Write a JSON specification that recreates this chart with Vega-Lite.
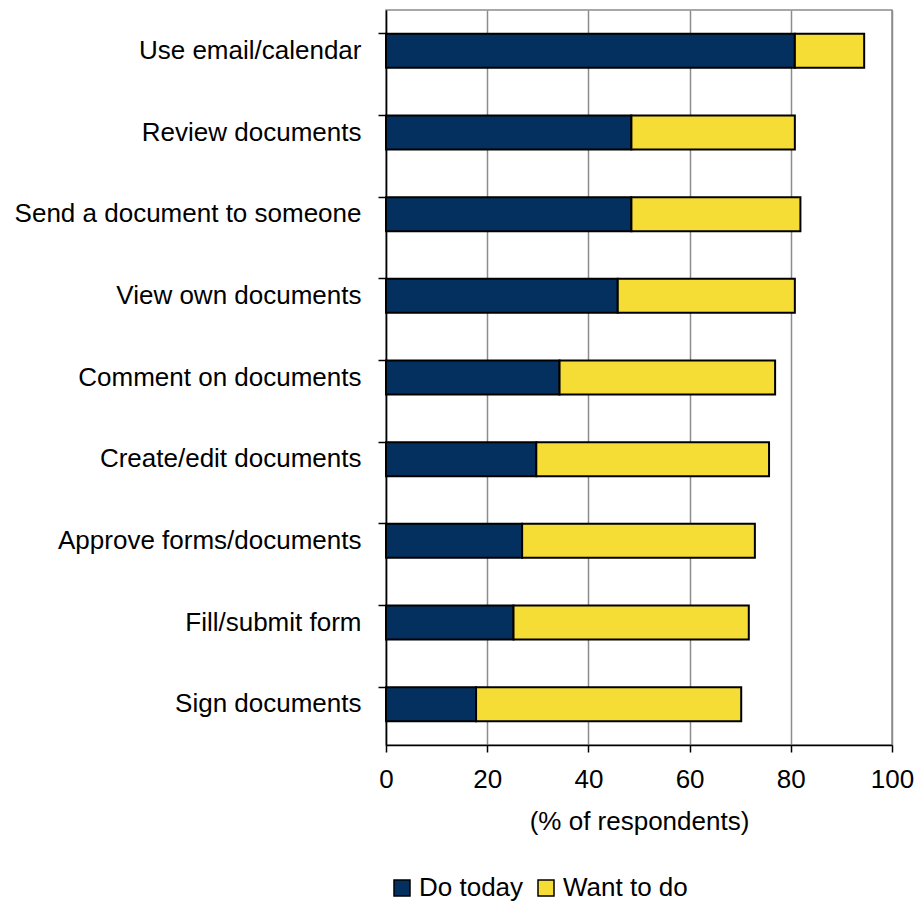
{
  "$schema": "https://vega.github.io/schema/vega-lite/v6.json",
  "autosize": {"type": "none"},
  "width": 506,
  "height": 735,
  "padding": {"left": 386, "top": 10, "right": 26, "bottom": 160},
  "background": "white",
  "config": {
    "font": "Liberation Sans",
    "view": {"stroke": "#8c8c8c", "strokeWidth": 1.5}
  },
  "data": {
    "values": [
      {"task": "Use email/calendar", "series": "Do today", "k": 1, "value": 80.8},
      {"task": "Use email/calendar", "series": "Want to do", "k": 2, "value": 13.7},
      {"task": "Review documents", "series": "Do today", "k": 1, "value": 48.5},
      {"task": "Review documents", "series": "Want to do", "k": 2, "value": 32.3},
      {"task": "Send a document to someone", "series": "Do today", "k": 1, "value": 48.5},
      {"task": "Send a document to someone", "series": "Want to do", "k": 2, "value": 33.4},
      {"task": "View own documents", "series": "Do today", "k": 1, "value": 45.8},
      {"task": "View own documents", "series": "Want to do", "k": 2, "value": 35.0},
      {"task": "Comment on documents", "series": "Do today", "k": 1, "value": 34.3},
      {"task": "Comment on documents", "series": "Want to do", "k": 2, "value": 42.6},
      {"task": "Create/edit documents", "series": "Do today", "k": 1, "value": 29.7},
      {"task": "Create/edit documents", "series": "Want to do", "k": 2, "value": 46.0},
      {"task": "Approve forms/documents", "series": "Do today", "k": 1, "value": 26.9},
      {"task": "Approve forms/documents", "series": "Want to do", "k": 2, "value": 46.0},
      {"task": "Fill/submit form", "series": "Do today", "k": 1, "value": 25.2},
      {"task": "Fill/submit form", "series": "Want to do", "k": 2, "value": 46.5},
      {"task": "Sign documents", "series": "Do today", "k": 1, "value": 17.8},
      {"task": "Sign documents", "series": "Want to do", "k": 2, "value": 52.4}
    ]
  },
  "mark": {"type": "bar", "stroke": "black", "strokeWidth": 2},
  "encoding": {
    "y": {
      "field": "task",
      "type": "nominal",
      "sort": null,
      "scale": {"paddingInner": 0.584, "paddingOuter": 0.292},
      "axis": {
        "title": null,
        "bandPosition": 0,
        "tickSize": 8,
        "tickColor": "black",
        "tickWidth": 1.5,
        "domainColor": "black",
        "domainWidth": 1.5,
        "labelFontSize": 26,
        "labelColor": "black",
        "labelPadding": 17,
        "labelLimit": 400,
        "grid": false
      }
    },
    "x": {
      "field": "value",
      "type": "quantitative",
      "stack": "zero",
      "scale": {"domain": [0, 100], "nice": false},
      "axis": {
        "title": "(% of respondents)",
        "titleFontSize": 26,
        "titleFontWeight": "normal",
        "titleColor": "black",
        "titlePadding": 16,
        "values": [0, 20, 40, 60, 80, 100],
        "tickSize": 7,
        "tickColor": "black",
        "tickWidth": 1.5,
        "domainColor": "black",
        "domainWidth": 1.5,
        "labelFontSize": 26,
        "labelColor": "black",
        "labelPadding": 14,
        "labelFlush": false,
        "grid": true,
        "gridColor": "#8c8c8c",
        "gridWidth": 1.5
      }
    },
    "color": {
      "field": "series",
      "type": "nominal",
      "scale": {"domain": ["Do today", "Want to do"], "range": ["#03305F", "#F6DD36"]},
      "legend": {
        "title": null,
        "orient": "none",
        "legendX": 3,
        "legendY": 865,
        "direction": "horizontal",
        "symbolType": "square",
        "symbolSize": 256,
        "symbolStrokeColor": "black",
        "symbolStrokeWidth": 1.5,
        "labelFontSize": 26,
        "labelColor": "black",
        "labelOffset": 4,
        "columnPadding": 9
      }
    },
    "order": {"field": "k", "type": "quantitative"}
  }
}
